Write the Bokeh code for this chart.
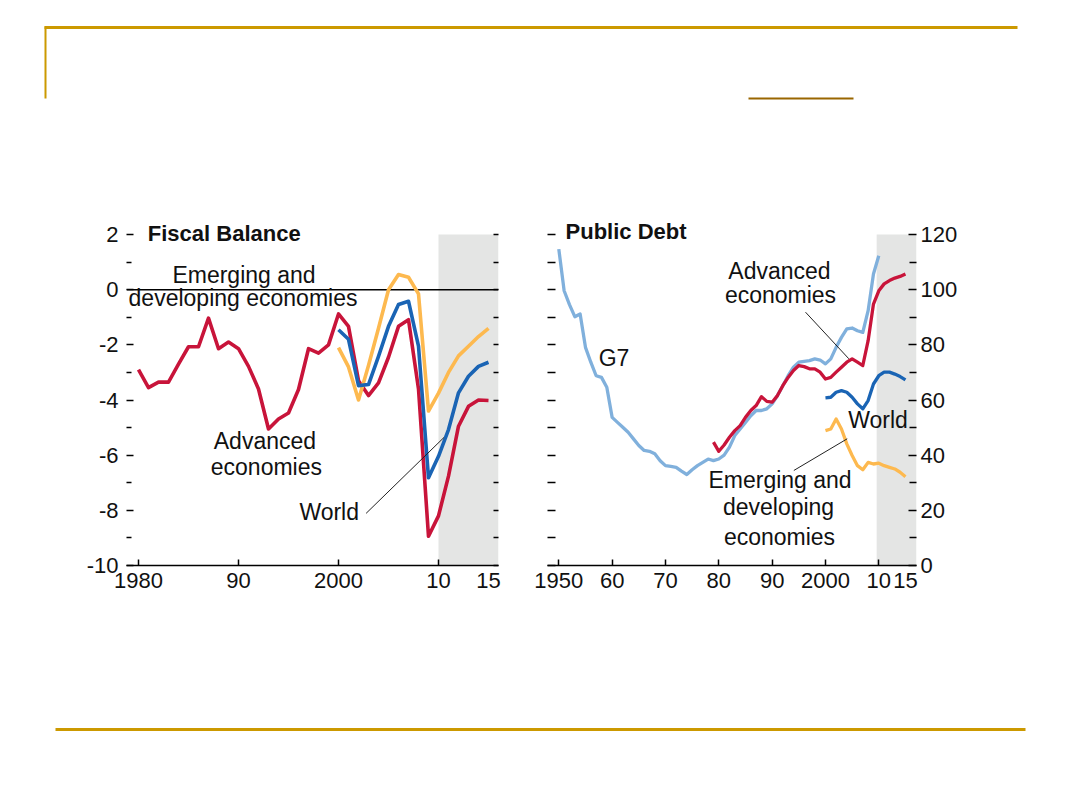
from bokeh.plotting import figure
from bokeh.layouts import column, row
from bokeh.models import Range1d, FixedTicker, LinearAxis, BoxAnnotation, Span, Label, Arrow
from bokeh.embed import file_html
from bokeh.resources import INLINE

# ---------------- data ----------------
fb_adv_years = list(range(1980, 2016))
fb_advanced = [-2.9, -3.55, -3.35, -3.35, -2.7, -2.07, -2.07, -1.03, -2.14, -1.9,
               -2.14, -2.78, -3.6, -5.05, -4.69, -4.47, -3.62, -2.14, -2.3, -2.0,
               -0.88, -1.33, -3.3, -3.84, -3.38, -2.45, -1.33, -1.09, -3.6, -8.94,
               -8.2, -6.76, -4.95, -4.23, -4.0, -4.02]
fb_years = list(range(2000, 2016))
fb_world = [-1.45, -1.8, -3.48, -3.44, -2.42, -1.33, -0.54, -0.42, -2.05, -6.82,
            -6.04, -5.07, -3.74, -3.14, -2.78, -2.63]
fb_emerging = [-2.1, -2.8, -4.0, -2.75, -1.4, 0.0, 0.55, 0.45, -0.15, -4.4,
               -3.75, -3.0, -2.4, -2.05, -1.7, -1.4]

g7_years = list(range(1950, 2011))
debt_g7 = [114.7, 99.6, 94.6, 90.2, 91.2, 79.1, 73.7, 68.8, 68.2, 64.6,
           53.7, 51.9, 50.1, 48.3, 45.9, 43.5, 41.7, 41.4, 40.5, 38.0,
           36.2, 35.9, 35.6, 34.2, 33.0, 34.7, 36.2, 37.4, 38.6, 38.0,
           38.6, 40.0, 42.9, 47.1, 49.5, 51.9, 54.3, 56.2, 56.2, 56.8,
           58.6, 61.6, 65.2, 68.8, 71.9, 73.7, 74.0, 74.3, 74.9, 74.5,
           73.1, 74.9, 79.1, 82.7, 85.8, 86.1, 85.1, 84.5, 92.4, 105.7, 112.3]
adv_debt_years = list(range(1979, 2016))
debt_advanced = [44.7, 41.4, 43.7, 46.5, 48.9, 50.7, 53.7, 56.2, 58.0, 61.2,
                 59.5, 59.2, 61.6, 65.2, 68.2, 70.7, 72.5, 72.1, 71.3, 71.3,
                 70.1, 67.6, 68.2, 70.1, 71.9, 73.7, 74.9, 73.7, 72.5, 81.5,
                 94.8, 99.6, 102.1, 103.3, 104.2, 104.8, 105.7]
debt_years = list(range(2000, 2016))
debt_world = [60.8, 61.0, 62.8, 63.4, 62.8, 61.0, 58.6, 56.8, 59.8, 65.8,
              68.8, 70.1, 70.1, 69.4, 68.5, 67.3]
debt_emerging = [48.9, 49.5, 53.1, 49.5, 44.1, 39.9, 36.2, 34.7, 37.4, 36.8,
                 37.1, 36.2, 35.6, 35.0, 33.8, 32.2]

fb_ticks = [-10, -8, -6, -4, -2, 0, 2]
fb_minor = [-9, -7, -5, -3, -1, 1]
fb_xticks = [1980, 1990, 2000, 2010, 2015]
fb_xlabels = ["1980", "90", "2000", "10", "15"]
debt_ticks = [0, 20, 40, 60, 80, 100, 120]
debt_minor = [10, 30, 50, 70, 90, 110]
debt_xticks = [1950, 1960, 1970, 1980, 1990, 2000, 2010, 2015]
debt_xlabels = ["1950", "60", "70", "80", "90", "2000", "10", "15"]
fb_proj_start = 2010
debt_proj_start = 2009.6

# ---------------- style ----------------
FONT = "Liberation Sans"
TICK_SIZE = "22px"
ANN_SIZE = "23px"
TITLE_SIZE = "22px"
RED = "#C8143A"
BLUE = "#1A64B4"
ORANGE = "#FDB94F"
LIGHTBLUE = "#80B0DC"
SHADE = "#E4E5E4"
GOLD = "#CC9900"
TEXT = "#111111"


def style_xaxis(ax, ticks, labels):
    ax.ticker = FixedTicker(ticks=ticks, minor_ticks=[t for t in ticks if t % 10 == 0])
    ax.major_label_overrides = {t: l for t, l in zip(ticks, labels)}
    ax.major_tick_line_color = None
    ax.minor_tick_in = 6
    ax.minor_tick_out = 0
    ax.minor_tick_line_color = "black"
    ax.minor_tick_line_width = 1.5
    ax.axis_line_color = "black"
    ax.axis_line_width = 1.5
    ax.major_label_standoff = 1
    ax.major_label_text_font = FONT
    ax.major_label_text_font_size = TICK_SIZE
    ax.major_label_text_color = TEXT


def blank_axis(ticks, tick_len):
    return LinearAxis(ticker=FixedTicker(ticks=ticks, minor_ticks=[]),
                      major_label_overrides={t: "" for t in ticks},
                      major_tick_in=tick_len, major_tick_out=0,
                      major_tick_line_width=1.5,
                      axis_line_color=None, major_label_standoff=0,
                      major_label_text_font_size="1px")


def add_labels(fig, items):
    for txt, x, y, align, bold in items:
        fig.add_layout(Label(x=x, y=y, text=txt, text_font=FONT, y_offset=9,
                             text_font_size=TITLE_SIZE if bold else ANN_SIZE,
                             text_font_style="bold" if bold else "normal",
                             text_align=align, text_baseline="alphabetic",
                             text_color=TEXT))


# ---------------- left: fiscal balance ----------------
lf = figure(width=530, height=402, x_range=Range1d(1978.8, 2016.0), y_range=Range1d(-10, 2.508),
            output_backend="svg", toolbar_location=None,
            min_border_left=126, min_border_right=32, min_border_top=20, min_border_bottom=37)
lf.outline_line_color = None
lf.grid.visible = False
lf.add_layout(BoxAnnotation(left=fb_proj_start, top=2, fill_color=SHADE, fill_alpha=1,
                            line_color=None, level="underlay"))
lf.add_layout(Span(location=0, dimension="width", line_color="black", line_width=1.5,
                   level="underlay"))

style_xaxis(lf.xaxis[0], fb_xticks, fb_xlabels)
ya = lf.yaxis[0]
ya.ticker = FixedTicker(ticks=fb_ticks, minor_ticks=fb_minor)
ya.major_label_overrides = {t: str(t) for t in fb_ticks}
ya.major_tick_in = 7
ya.major_tick_out = 0
ya.major_tick_line_width = 1.5
ya.minor_tick_in = 5
ya.minor_tick_out = 0
ya.minor_tick_line_width = 1.5
ya.axis_line_color = None
ya.major_label_standoff = 8
ya.major_label_text_font = FONT
ya.major_label_text_font_size = TICK_SIZE
ya.major_label_text_color = TEXT
lf.add_layout(blank_axis(list(range(-10, 3)), 5), "right")

lf.line(fb_adv_years, fb_advanced, line_color=RED, line_width=3.6, line_join="round")
lf.line(fb_years, fb_emerging, line_color=ORANGE, line_width=3.6, line_join="round")
lf.line(fb_years, fb_world, line_color=BLUE, line_width=3.6, line_join="round")

add_labels(lf, [
    ("Fiscal Balance", 1980.93, 1.71, "left", True),
    ("Emerging and", 1990.55, 0.21, "center", False),
    ("developing economies", 1990.45, -0.61, "center", False),
    ("Advanced", 1992.64, -5.83, "center", False),
    ("economies", 1992.79, -6.74, "center", False),
    ("World", 1999.07, -8.37, "center", False),
])
lf.add_layout(Arrow(end=None, x_start=2002.76, y_start=-8.11, x_end=2010.54, y_end=-5.36,
                    line_color="#222222", line_width=1))

# ---------------- right: public debt ----------------
rf = figure(width=542, height=402, x_range=Range1d(1947.88, 2017.07), y_range=Range1d(0, 125.08),
            output_backend="svg", toolbar_location=None, y_axis_location="right",
            min_border_left=17, min_border_right=156, min_border_top=20, min_border_bottom=37)
rf.outline_line_color = None
rf.grid.visible = False
rf.add_layout(BoxAnnotation(left=debt_proj_start, top=120, fill_color=SHADE, fill_alpha=1,
                            line_color=None, level="underlay"))

style_xaxis(rf.xaxis[0], debt_xticks, debt_xlabels)
ra = rf.yaxis[0]
ra.ticker = FixedTicker(ticks=debt_ticks, minor_ticks=debt_minor)
ra.major_label_overrides = {t: str(t) for t in debt_ticks}
ra.major_tick_in = 8
ra.major_tick_out = 0
ra.major_tick_line_width = 1.5
ra.minor_tick_in = 7
ra.minor_tick_out = 0
ra.minor_tick_line_width = 1.5
ra.axis_line_color = None
ra.major_label_standoff = 4
ra.major_label_text_font = FONT
ra.major_label_text_font_size = TICK_SIZE
ra.major_label_text_color = TEXT
rf.add_layout(blank_axis(list(range(0, 121, 10)), 8), "left")

rf.line(g7_years, debt_g7, line_color=LIGHTBLUE, line_width=3.3, line_join="round")
rf.line(adv_debt_years, debt_advanced, line_color=RED, line_width=3.3, line_join="round")
rf.line(debt_years, debt_world, line_color=BLUE, line_width=3.3, line_join="round")
rf.line(debt_years, debt_emerging, line_color=ORANGE, line_width=3.3, line_join="round")

add_labels(rf, [
    ("Public Debt", 1951.26, 117.8, "left", True),
    ("G7", 1960.35, 71.9, "center", False),
    ("Advanced", 1991.38, 103.6, "center", False),
    ("economies", 1991.57, 94.9, "center", False),
    ("World", 2009.85, 49.6, "center", False),
    ("Emerging and", 1991.48, 27.8, "center", False),
    ("developing", 1991.2, 18.1, "center", False),
    ("economies", 1991.38, 7.25, "center", False),
])
rf.add_layout(Arrow(end=None, x_start=1996.26, y_start=91.84, x_end=2004.38, y_end=74.95,
                    line_color="#222222", line_width=1))
rf.add_layout(Arrow(end=None, x_start=1994.07, y_start=34.45, x_end=2004.08, y_end=45.94,
                    line_color="#222222", line_width=1))

# ---------------- slide decoration ----------------
def deco(height, top):
    f = figure(width=1072, height=height, x_range=Range1d(0, 1072), y_range=Range1d(top + height, top),
               output_backend="svg", toolbar_location=None, x_axis_type=None, y_axis_type=None,
               min_border=0)
    f.grid.visible = False
    f.outline_line_color = None
    return f

top = deco(200, 0)
top.segment(x0=[44, 45], y0=[27, 26], x1=[1017, 45], y1=[27, 98], line_color=GOLD, line_width=[3, 2])
top.segment(x0=[748], y0=[98], x1=[853], y1=[98], line_color="#996600", line_width=2)

bottom = deco(200, 602)
bottom.segment(x0=[55], y0=[729], x1=[1025], y1=[729], line_color=GOLD, line_width=3)

layout = column(top, row(lf, rf), bottom)
open("out.html", "w").write(file_html(layout, INLINE))
